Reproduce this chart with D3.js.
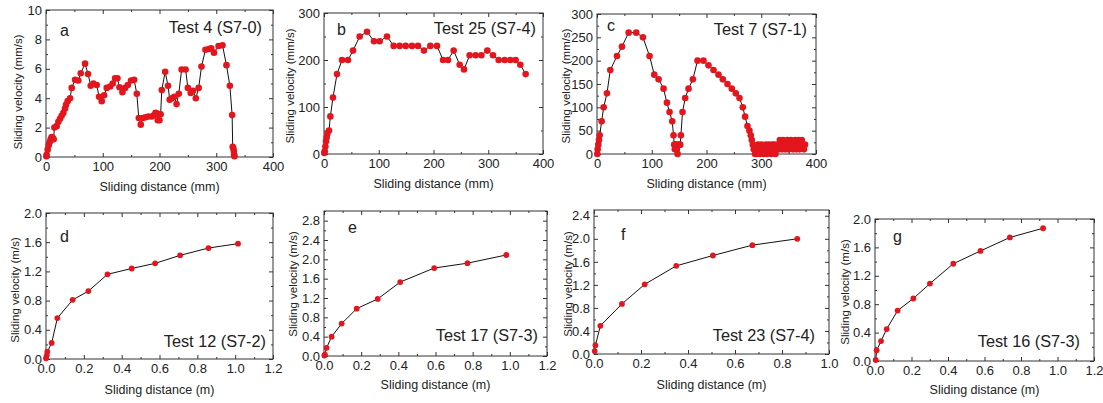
<!DOCTYPE html>
<html>
<head>
<meta charset="utf-8">
<script src="https://cdn.jsdelivr.net/npm/d3@7"></script>
<style>
  body { margin: 0; background: #fff; }
  svg { display: block; font-family: "Liberation Sans", Arial, sans-serif; }
</style>
</head>
<body>
<svg id="chart" width="1103" height="403"></svg>
<script>
// --- Data ---

// a: Test 4 (S7-0), mm vs mm/s
const aDist = [0.6, 1.2, 2.9, 4.7, 6.5, 8.2, 10, 11.8, 13.5, 14.7, 18.8, 21.8, 24.7, 27.6, 30.6, 33.5, 35.3, 38.2, 42.4,
  45.3, 51.2, 57, 61.2, 68.8, 74.1, 78.8, 83.5, 89.4, 93.5, 98.2, 102.4, 107, 113, 117.6, 121.8, 125.9, 129.4, 134.7,
  139.4, 144.1, 150, 155.3, 160, 163.5, 167, 170.6, 175.3, 180.6, 186.5, 190.6, 193, 196, 197, 200, 202, 204, 210,
  215, 218, 222, 226, 230, 234, 239, 246, 250, 255, 259, 264, 269, 274, 281, 287, 291, 296, 304, 311, 318, 324, 328,
  329, 330, 331, 331.5, 332];
const aVel = [0.05, 0.15, 0.5, 0.8, 1.0, 1.2, 1.35, 1.3, 1.2, 2.0, 2.1, 2.4, 2.6, 2.8, 3.0, 3.3, 3.55, 3.8, 4.0,
  4.7, 5.25, 5.2, 5.7, 6.35, 5.65, 4.85, 5.0, 4.9, 4.1, 3.8, 4.2, 4.7, 4.8, 5.0, 5.35, 5.35, 4.75, 4.4,
  4.7, 4.9, 5.2, 5.25, 4.3, 2.65, 2.2, 2.65, 2.7, 2.75, 2.75, 2.85, 3.0, 2.95, 2.5, 2.5, 2.9, 4.55, 5.8,
  4.85, 3.9, 4.0, 4.1, 3.6, 4.3, 5.95, 5.95, 4.7, 4.35, 4.5, 4.0, 4.7, 6.15, 7.3, 7.35, 7.4, 7.1, 7.55, 7.6, 6.25, 4.85, 2.85,
  0.7, 0.6, 0.4, 0.15, 0.05];

// b: Test 25 (S7-4)
const bDist = [0.5, 1.3, 2.5, 3.7, 4.9, 6.1, 9.2, 11.6, 16.4, 23.7, 32.9, 43.8, 53, 65.1, 78.5, 91.3, 101.7, 115,
  127.2, 138.2, 149.2, 160.7, 171.7, 182.6, 194.2, 206.4, 217.4, 226.5, 236.8, 247.8, 255.7, 266, 277, 287.4,
  298.3, 308.7, 319, 330, 340.3, 350, 358.6, 368.3];
const bVel = [2, 6, 16, 27, 35, 43, 50, 80, 120, 170, 200, 200, 220, 250, 260, 240, 240, 250,
  230, 230, 230, 230, 230, 220, 230, 230, 200, 200, 220, 190, 180, 210, 210, 210,
  220, 210, 200, 200, 200, 200, 190, 170];

// c: Test 7 (S7-1)
const cDist = [0.5, 1.2, 2.4, 3.6, 4.9, 8.5, 12.2, 18.2, 24.3, 36.5, 45.6, 57.8, 71.7, 83.9, 96, 104.6, 112.5,
  121.6, 127.7, 132.5, 137.4, 139.8, 141, 142.2, 143.5, 144.7, 145.9, 147.1, 148.9, 150.8, 152, 153.2, 156.2,
  161.1, 167.2, 175.1, 183.6, 194.5, 203.6, 212.8, 221.9, 229.8, 238.3, 246.2, 253.5, 260.2, 266.3, 270.5,
  274.8, 278.4, 280.9, 282.7, 284.5, 286.3, 288.8,
  290, 292, 294, 296, 298, 300, 302, 304, 306, 308, 310, 312, 314, 316, 318, 320, 322, 324, 326, 328, 330,
  332, 334, 336, 338, 340, 342, 344, 346, 348, 350, 352, 354, 356, 358, 360, 362, 364, 366, 368, 370, 372,
  374, 376, 378, 380];
const cVel = [0, 10, 20, 30, 40, 70, 100, 130, 180, 210, 230, 260, 260, 250, 210, 170, 160,
  140, 110, 90, 70, 40, 20, 10, 20, 20, 10, 0, 20, 20, 20, 40, 90,
  120, 140, 160, 200, 200, 190, 180, 170, 160, 150, 140, 130, 120, 100, 80,
  60, 50, 40, 30, 20, 10, 0,
  10, 0, 20, 10, 0, 20, 10, 0, 10, 20, 0, 10, 20, 10, 0, 20, 10, 20, 0, 10, 20,
  10, 30, 20, 10, 30, 20, 10, 20, 30, 10, 20, 30, 20, 10, 20, 30, 10, 20, 30, 10, 20,
  30, 20, 10, 20];

// d: Test 12 (S7-2), m vs m/s
const dDist = [0, 0.004, 0.007, 0.03, 0.06, 0.141, 0.224, 0.325, 0.453, 0.577, 0.709, 0.859, 1.015];
const dVel = [0.01, 0.05, 0.1, 0.22, 0.56, 0.81, 0.93, 1.16, 1.24, 1.31, 1.42, 1.52, 1.58];

// e: Test 17 (S7-3)
const eDist = [0.002, 0.005, 0.014, 0.041, 0.095, 0.176, 0.289, 0.41, 0.593, 0.772, 0.981];
const eVel = [0.01, 0.03, 0.17, 0.40, 0.67, 0.98, 1.18, 1.53, 1.82, 1.92, 2.09];

// f: Test 23 (S7-4)
const fDist = [0.003, 0.006, 0.027, 0.119, 0.216, 0.35, 0.506, 0.674, 0.865];
const fVel = [0.05, 0.15, 0.49, 0.87, 1.21, 1.53, 1.71, 1.89, 2.0];

// g: Test 16 (S7-3)
const gDist = [0.004, 0.009, 0.033, 0.064, 0.124, 0.21, 0.301, 0.429, 0.578, 0.739, 0.921];
const gVel = [0.014, 0.15, 0.28, 0.45, 0.71, 0.88, 1.09, 1.37, 1.55, 1.74, 1.87];

// --- Layout ---

const fmtInt = d3.format('d');
const fmt1 = d3.format('.1f');

const panels = [
  { dist: aDist, vel: aVel, box: [46, 10, 273, 157], xDomain: [0, 400], xStep: 100, yDomain: [0, 10], yStep: 2,
    fx: fmtInt, fy: fmtInt, unit: 'mm', yUnit: 'mm/s', letter: 'a', letterAt: [60, 36],
    test: 'Test 4 (S7-0)', testAt: [262, 33], yTitleAt: [18, 92], xTitleY: 191, r: 3.3 },
  { dist: bDist, vel: bVel, box: [324, 13, 543, 154], xDomain: [0, 400], xStep: 100, yDomain: [0, 300], yStep: 100,
    fx: fmtInt, fy: fmtInt, unit: 'mm', yUnit: 'mm/s', letter: 'b', letterAt: [337, 35],
    test: 'Test 25 (S7-4)', testAt: [536, 34], yTitleAt: [290, 86], xTitleY: 188, r: 3.3 },
  { dist: cDist, vel: cVel, box: [597, 14, 816, 154], xDomain: [0, 400], xStep: 100, yDomain: [0, 300], yStep: 50,
    fx: fmtInt, fy: fmtInt, unit: 'mm', yUnit: 'mm/s', letter: 'c', letterAt: [607, 31],
    test: 'Test 7 (S7-1)', testAt: [807, 35], yTitleAt: [566, 86], xTitleY: 188, r: 3.3 },
  { dist: dDist, vel: dVel, box: [46, 213, 273, 359], xDomain: [0, 1.2], xStep: 0.2, yDomain: [0, 2.0], yStep: 0.4,
    fx: fmt1, fy: fmt1, unit: 'm', yUnit: 'm/s', letter: 'd', letterAt: [60, 242],
    test: 'Test 12 (S7-2)', testAt: [266, 347], yTitleAt: [15, 290], xTitleY: 394, r: 2.9 },
  { dist: eDist, vel: eVel, box: [324, 211, 547, 356], xDomain: [0, 1.2], xStep: 0.2, yDomain: [0, 3.0], yStep: 0.4,
    fx: fmt1, fy: fmt1, unit: 'm', yUnit: 'm/s', letter: 'e', letterAt: [348, 233],
    test: 'Test 17 (S7-3)', testAt: [538, 341], yTitleAt: [293, 284], xTitleY: 389, r: 2.9 },
  { dist: fDist, vel: fVel, box: [594, 210, 829, 354], xDomain: [0, 1.0], xStep: 0.2, yDomain: [0, 2.5], yStep: 0.4,
    fx: fmt1, fy: fmt1, unit: 'm', yUnit: 'm/s', letter: 'f', letterAt: [621, 240],
    test: 'Test 23 (S7-4)', testAt: [815, 341], yTitleAt: [568, 284], xTitleY: 389, r: 2.9 },
  { dist: gDist, vel: gVel, box: [875, 219, 1094, 361], xDomain: [0, 1.2], xStep: 0.2, yDomain: [0, 2.0], yStep: 0.4,
    fx: fmt1, fy: fmt1, unit: 'm', yUnit: 'm/s', letter: 'g', letterAt: [893, 242],
    test: 'Test 16 (S7-3)', testAt: [1080, 347], yTitleAt: [845, 292], xTitleY: 394, r: 2.9 }
];

const RED = '#e3161d';
const INK = '#222';
const FRAME = '#333';

const svg = d3.select('#chart');
svg.append('rect').attr('width', 1103).attr('height', 403).attr('fill', '#fff');

const ticksFor = (max, step) => d3.range(0, max + step * 1e-6, step);
const minorFor = (max, step) => d3.range(0, max + step * 1e-6, step / 2).filter((d, i) => i % 2 === 1);

function styleAxis(sel, size) {
  sel.select('.domain').remove();
  sel.selectAll('line').attr('stroke', FRAME);
  sel.selectAll('text').attr('fill', INK).attr('font-size', size)
    .attr('font-family', '"Liberation Sans", Arial, sans-serif');
}

panels.forEach(p => {
  const [L, T, R, B] = p.box;
  const x = d3.scaleLinear().domain(p.xDomain).range([L, R]);
  const y = d3.scaleLinear().domain(p.yDomain).range([B, T]);
  const g = svg.append('g');

  const xMaj = ticksFor(p.xDomain[1], p.xStep);
  const xMin = minorFor(p.xDomain[1], p.xStep);
  const yMaj = ticksFor(p.yDomain[1], p.yStep);
  const yMin = minorFor(p.yDomain[1], p.yStep);

  // labelled bottom / left axes, ticks pointing inward
  g.append('g').attr('transform', `translate(0,${B})`)
    .call(d3.axisBottom(x).tickValues(xMaj).tickFormat(p.fx).tickSizeInner(-4).tickSizeOuter(0).tickPadding(5))
    .call(s => styleAxis(s, 13));
  g.append('g').attr('transform', `translate(0,${B})`)
    .call(d3.axisBottom(x).tickValues(xMin).tickFormat('').tickSizeInner(-2).tickSizeOuter(0))
    .call(s => styleAxis(s, 13));
  g.append('g').attr('transform', `translate(${L},0)`)
    .call(d3.axisLeft(y).tickValues(yMaj).tickFormat(p.fy).tickSizeInner(-4).tickSizeOuter(0).tickPadding(4))
    .call(s => styleAxis(s, 13));
  g.append('g').attr('transform', `translate(${L},0)`)
    .call(d3.axisLeft(y).tickValues(yMin).tickFormat('').tickSizeInner(-2).tickSizeOuter(0))
    .call(s => styleAxis(s, 13));

  // mirrored top / right ticks
  g.append('g').attr('transform', `translate(0,${T})`)
    .call(d3.axisTop(x).tickValues(xMaj).tickFormat('').tickSizeInner(-4).tickSizeOuter(0))
    .call(s => styleAxis(s, 13));
  g.append('g').attr('transform', `translate(0,${T})`)
    .call(d3.axisTop(x).tickValues(xMin).tickFormat('').tickSizeInner(-2).tickSizeOuter(0))
    .call(s => styleAxis(s, 13));
  g.append('g').attr('transform', `translate(${R},0)`)
    .call(d3.axisRight(y).tickValues(yMaj).tickFormat('').tickSizeInner(-4).tickSizeOuter(0))
    .call(s => styleAxis(s, 13));
  g.append('g').attr('transform', `translate(${R},0)`)
    .call(d3.axisRight(y).tickValues(yMin).tickFormat('').tickSizeInner(-2).tickSizeOuter(0))
    .call(s => styleAxis(s, 13));

  g.append('rect')
    .attr('x', L).attr('y', T).attr('width', R - L).attr('height', B - T)
    .attr('fill', 'none').attr('stroke', FRAME).attr('stroke-width', 1);

  // series
  const pts = d3.zip(p.dist, p.vel);
  g.append('path')
    .datum(pts)
    .attr('fill', 'none')
    .attr('stroke', '#111')
    .attr('stroke-width', 1)
    .attr('d', d3.line().x(d => x(d[0])).y(d => y(d[1])));
  g.selectAll('circle.pt')
    .data(pts)
    .join('circle')
    .attr('class', 'pt')
    .attr('cx', d => x(d[0]))
    .attr('cy', d => y(d[1]))
    .attr('r', p.r)
    .attr('fill', RED);

  // titles and labels
  g.append('text')
    .attr('x', (L + R) / 2).attr('y', p.xTitleY)
    .attr('text-anchor', 'middle').attr('font-size', 12.5).attr('fill', INK)
    .text(`Sliding distance (${p.unit})`);
  g.append('text')
    .attr('transform', `translate(${p.yTitleAt[0]},${p.yTitleAt[1]}) rotate(-90)`)
    .attr('text-anchor', 'middle').attr('dy', '0.35em').attr('font-size', 11.5).attr('fill', INK)
    .text(`Sliding velocity (${p.yUnit})`);
  g.append('text')
    .attr('x', p.letterAt[0]).attr('y', p.letterAt[1])
    .attr('font-size', 16).attr('fill', INK)
    .text(p.letter);
  g.append('text')
    .attr('x', p.testAt[0]).attr('y', p.testAt[1])
    .attr('text-anchor', 'end').attr('font-size', 16.3).attr('fill', INK)
    .text(p.test);
});
</script>
</body>
</html>
